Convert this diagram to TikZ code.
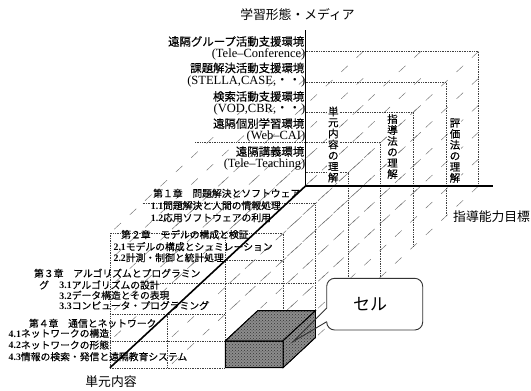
\documentclass[tikz,border=0pt]{standalone}
\usepackage{fontspec}
\setmainfont{Liberation Serif}
\newfontfamily\jp{Noto Sans CJK JP}
\newfontfamily\jpb[FakeBold=0.25]{Noto Sans CJK JP}
\usetikzlibrary{patterns}
\newcommand\nm[1]{{\rmfamily\bfseries #1}}
\begin{document}
\begin{tikzpicture}[x=1pt,y=-1pt,
  lbl/.style={anchor=east, inner sep=0pt, font=\jpb\fontsize{11.4}{12}\selectfont},
  elbl/.style={anchor=east, inner sep=0pt, font=\fontsize{12.5}{13}\selectfont},
  chap/.style={anchor=west, inner sep=0pt, font=\jpb\fontsize{9.8}{10}\selectfont},
  vtxt/.style={align=center, inner sep=0.6pt, fill=white, font=\jpb\fontsize{10.5}{11}\selectfont},
  ttl/.style={inner sep=0pt, font=\jp\fontsize{12.8}{13}\selectfont},
  dotl/.style={black!75, line width=0.5pt, dash pattern=on 0.7pt off 1pt},
  depthl/.style={black!55, line width=0.45pt, dash pattern=on 9pt off 12pt},
  axisl/.style={line width=1.6pt},
  boxl/.style={line width=0.8pt, fill=black!45},
  callout/.style={line width=0.9pt, black!80}]
\useasboundingbox (0,0) rectangle (531,391);

% depth (z) dashed lines of the 3D grid
\foreach \i in {0,...,3}{\foreach \j in {0,...,5}{%
  \ifnum\i\j=00 \else
  \draw[depthl] ({305.5+57.67*\i},{186-26.9*\j}) -- ++(-195.6,181.8);
  \fi}}

% dotted slice lines
\draw[dotl] (305.5,51.5) -- (478.5,51.5) -- (478.5,186);
\draw[dotl] (305.5,81.8) -- (445.9,81.8) -- (445.9,216.3);
\draw[dotl] (305.5,112.1) -- (413.3,112.1) -- (413.3,246.6);
\draw[dotl] (195,142.4) -- (380.7,142.4) -- (380.7,276.9);
\draw[dotl] (305.5,172.7) -- (348.1,172.7) -- (348.1,307.2);
\draw[dotl] (142.5,203) -- (315.5,203) -- (315.5,310.6);
\draw[dotl] (160,283.7) -- (315.5,283.7);
\draw[dotl] (109.9,367.8) -- (109.9,233.3) -- (282.9,233.3) -- (282.9,340.9);
\draw[dotl] (225.2,233.3) -- (225.2,340.9);
\draw[dotl] (225.2,260.2) -- (282.9,260.2);
\draw[dotl] (109.9,314) -- (225.2,314);
\draw[dotl] (109.9,340.9) -- (225.2,340.9);
\draw[dotl] (109.9,367.8) -- (225.2,367.8);
\draw[dotl] (167.6,314) -- (167.6,367.8);

% axis titles
\node[ttl] (tY) at (297.5,15) {学習形態・メディア};
\node[ttl, anchor=west] (tX) at (453,216.5) {指導能力目標};
\node[ttl] (tZ) at (111,382) {単元内容};

% media labels
\node[lbl]  (m1) at (304.5,41.5)  {遠隔グループ活動支援環境};
\node[elbl] (m2) at (305.5,54)    {(Tele–Conference)};
\node[lbl]  (m3) at (304.5,68)    {課題解決活動支援環境};
\node[elbl] (m4) at (305.5,81.5)  {(STELLA,CASE,{\jp ・・})};
\node[lbl]  (m5) at (304.5,96.5)  {検索活動支援環境};
\node[elbl] (m6) at (305.5,109)   {(VOD,CBR,{\jp ・・})};
\node[lbl]  (m7) at (304.5,123.5) {遠隔個別学習環境};
\node[elbl] (m8) at (305.5,136.5) {(Web–CAI)};
\node[lbl]  (m9) at (304.5,151.5) {遠隔講義環境};
\node[elbl] (m10) at (305.5,164.5) {(Tele–Teaching)};

% goal columns (vertical text)
\node[vtxt] (g1) at (333.3,144.5) {単\\元\\内\\容\\の\\理\\解};
\node[vtxt] (g2) at (392.5,146.5) {指\\導\\法\\の\\理\\解};
\node[vtxt] (g3) at (455,150.5) {評\\価\\法\\の\\理\\解};

% chapters
\node[chap] (c1)  at (153,193.3)   {第１章　問題解決とソフトウェア};
\node[chap] (c11) at (150.7,205.5) {\nm{1.1}問題解決と人間の情報処理};
\node[chap] (c12) at (150.7,217.7) {\nm{1.2}応用ソフトウェアの利用};
\node[chap] (c2)  at (121,234.5)   {第２章　モデルの構成と検証};
\node[chap] (c21) at (113.4,246.7) {\nm{2.1}モデルの構成とシュミレーション};
\node[chap] (c22) at (113.4,257.7) {\nm{2.2}計測・制御と統計処理};
\node[chap] (c3)  at (33.9,273.3)  {第３章　アルゴリズムとプログラミン};
\node[chap] (c3b) at (39,285)      {グ};
\node[chap] (c31) at (59.3,285)    {\nm{3.1}アルゴリズムの設計};
\node[chap] (c32) at (59.3,295.3)  {\nm{3.2}データ構造とその表現};
\node[chap] (c33) at (59.3,305.5)  {\nm{3.3}コンピュータ・プログラミング};
\node[chap] (c4)  at (28.8,323.3)  {第４章　通信とネットワーク};
\node[chap] (c41) at (8.5,333.3)   {\nm{4.1}ネットワークの構造};
\node[chap] (c42) at (8.5,345)     {\nm{4.2}ネットワークの形態};
\node[chap] (c43) at (8.5,356.7)   {\nm{4.3}情報の検索・発信と遠隔教育システム};

% main axes
\draw[axisl] (305.5,30) -- (305.5,186) -- (493,186);
\draw[axisl] (305.5,186) -- (109.9,367.8);

% the cell
\filldraw[boxl] (225.2,340.9) -- (257.8,310.6) -- (315.5,310.6) -- (282.9,340.9) -- cycle;
\filldraw[boxl] (282.9,340.9) -- (315.5,310.6) -- (315.5,337.5) -- (282.9,367.8) -- cycle;
\filldraw[boxl] (225.2,340.9) rectangle (282.9,367.8);
\fill[pattern=crosshatch dots, pattern color=black!80] (225.2,340.9) -- (257.8,310.6) -- (315.5,310.6) -- (315.5,337.5) -- (282.9,367.8) -- (225.2,367.8) -- cycle;
\draw[line width=0.8pt] (225.2,340.9) -- (257.8,310.6) -- (315.5,310.6) -- (315.5,337.5) -- (282.9,367.8) -- (225.2,367.8) -- cycle;
\draw[line width=0.8pt] (225.2,340.9) -- (282.9,340.9) -- (315.5,310.6) (282.9,340.9) -- (282.9,367.8);

% callout
\fill[white, rounded corners=8pt] (326.7,278.3) rectangle (422.7,330);
\draw[callout, rounded corners=8pt] (326.7,321.7) -- (326.7,330) -- (422.7,330) -- (422.7,278.3) -- (326.7,278.3) -- (326.7,308);
\draw[callout] (326.7,308) -- (293.3,341.5) -- (326.7,321.7);
\node[font=\jp\fontsize{17}{18}\selectfont, inner sep=0pt] (cell) at (370,304) {セル};
\end{tikzpicture}
\end{document}
